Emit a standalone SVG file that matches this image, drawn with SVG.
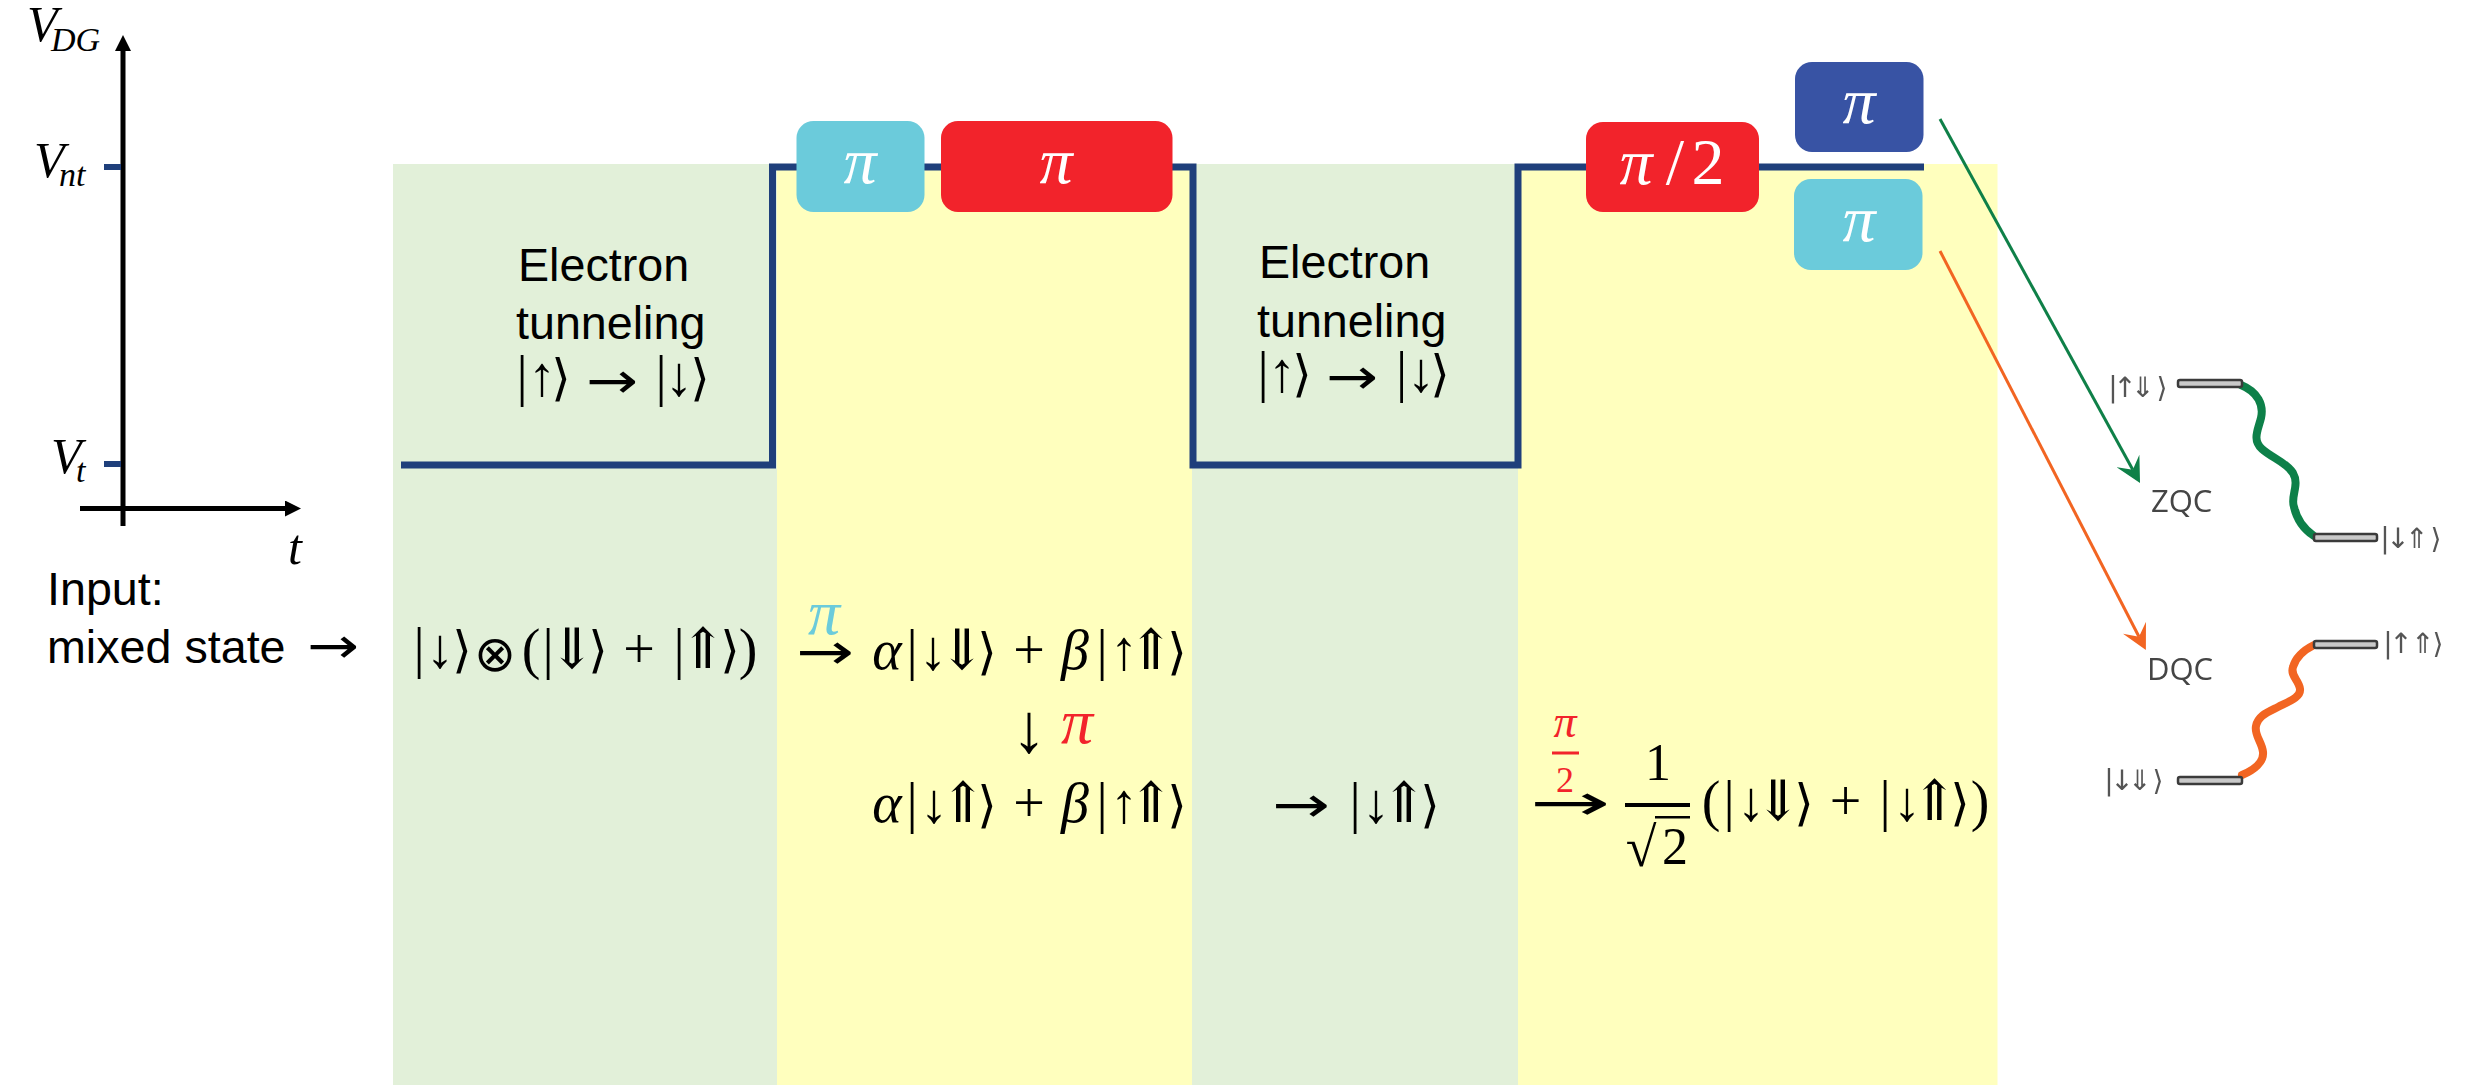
<svg xmlns="http://www.w3.org/2000/svg" width="2475" height="1085" viewBox="0 0 2475 1085">
<style>
text{font-family:"Liberation Serif","DejaVu Serif",serif;fill:#000}
.s{font-family:"Liberation Sans",Arial,sans-serif;font-size:46.67px}
.m{font-size:56px;text-anchor:middle}
.d{font-family:"DejaVu Sans","Liberation Sans",sans-serif;font-size:50px;text-anchor:middle}
.i{font-style:italic}
.b{font-style:italic;font-size:52px;text-anchor:middle}
.ax{font-style:italic;font-size:50px}
.sub{font-style:italic;font-size:34px}
.pi{font-style:italic;font-size:66px;text-anchor:middle;fill:#fff}
.l{font-family:"DejaVu Sans",sans-serif;font-size:28px;text-anchor:middle;fill:#555}
.q{font-family:"Open Sans",sans-serif;font-size:31px;fill:#444}
.lvl{fill:#c9c9c9;stroke:#3a3a3a;stroke-width:2.5}
.wave{fill:none;stroke-width:8;stroke-linecap:round}
.cy{fill:#6BCBDB}.rd{fill:#F2232B}.bl{fill:#3853A4}
</style>
<defs>
<marker id="axh" markerUnits="userSpaceOnUse" viewBox="0 0 16 16" refX="0" refY="8" markerWidth="16" markerHeight="16" orient="auto"><path d="M0,0L16,8L0,16Z" fill="#000"/></marker>
<marker id="gh" markerUnits="userSpaceOnUse" viewBox="0 0 25 26" refX="10" refY="13" markerWidth="25" markerHeight="26" orient="auto"><path d="M25,13L0,0L10,13L0,26Z" fill="#0F8048"/></marker>
<marker id="oh" markerUnits="userSpaceOnUse" viewBox="0 0 25 26" refX="10" refY="13" markerWidth="25" markerHeight="26" orient="auto"><path d="M25,13L0,0L10,13L0,26Z" fill="#F26522"/></marker>
<filter id="soft" x="-5%" y="-5%" width="110%" height="110%"><feGaussianBlur stdDeviation="0.6"/></filter>
</defs>

<g id="panels">
<rect x="393" y="164" width="384" height="921" fill="#E2F0D9"/>
<rect x="777" y="164" width="415" height="921" fill="#FFFFBE"/>
<rect x="1192" y="164" width="326" height="921" fill="#E2F0D9"/>
<rect x="1518" y="164" width="479.500" height="921" fill="#FFFFBE"/>
</g>

<g id="connectors">
<path d="M123,526V51" stroke="#000" stroke-width="5" fill="none" marker-end="url(#axh)"/>
<path d="M80,508.500H285" stroke="#000" stroke-width="5" fill="none" marker-end="url(#axh)"/>
<path d="M104,167H121M104,464H121" stroke="#1F3F7B" stroke-width="6" fill="none"/>
<path id="waveform" d="M401,465H772.500V167H1193V465H1518V167H1924" stroke="#1F3F7B" stroke-width="7" fill="none"/>
<path d="M1940,119L2132.800,469.800" stroke="#0F8048" stroke-width="3" fill="none" marker-end="url(#gh)" transform="translate(0,0)"/>
<path d="M1940,251L2139,636.700" stroke="#F26522" stroke-width="3" fill="none" marker-end="url(#oh)"/>
</g>

<g id="axis-labels">
<text class="ax" x="27" y="41">V</text><text class="sub" x="51" y="51">DG</text>
<text class="ax" x="34" y="177">V</text><text class="sub" x="59" y="186">nt</text>
<text class="ax" x="51" y="473">V</text><text class="sub" x="76" y="482">t</text>
<text class="ax" x="288" y="564">t</text>
</g>

<g id="tunnel-1">
<text class="s" x="518" y="281">Electron</text>
<text class="s" x="516" y="339">tunneling</text>
<text class="m" y="395" x="522 542">|↑</text><text class="d" y="395" x="561">⟩</text>
<text class="d" y="398" x="612" textLength="52" lengthAdjust="spacingAndGlyphs">→</text>
<text class="m" y="395" x="661 679">|↓</text><text class="d" y="395" x="700">⟩</text>
</g>
<g id="tunnel-2">
<text class="s" x="1259" y="278">Electron</text>
<text class="s" x="1257" y="337">tunneling</text>
<text class="m" y="391" x="1263 1282">|↑</text><text class="d" y="391" x="1302">⟩</text>
<text class="d" y="394" x="1352" textLength="52" lengthAdjust="spacingAndGlyphs">→</text>
<text class="m" y="391" x="1401.500 1421">|↓</text><text class="d" y="391" x="1440">⟩</text>
</g>

<g id="pulse-pi-cyan"><rect class="cy" x="796.500" y="121" width="128" height="91" rx="17"/><text class="pi" x="860" y="183">π</text></g>
<g id="pulse-pi-red"><rect class="rd" x="941" y="121" width="231.500" height="91" rx="17"/><text class="pi" x="1056" y="183">π</text></g>
<g id="pulse-pi2-red"><rect class="rd" x="1586" y="122" width="173" height="90" rx="17"/><text class="pi" x="1636" y="184">π</text><text class="pi" style="font-style:normal" x="1675" y="184">/</text><text class="pi" style="font-style:normal" x="1708" y="184">2</text></g>
<g id="pulse-pi-blue"><rect class="bl" x="1795" y="62" width="128.500" height="90" rx="17"/><text class="pi" x="1859" y="123">π</text></g>
<g id="pulse-pi-cyan-2"><rect class="cy" x="1794" y="179" width="128.500" height="91" rx="17"/><text class="pi" x="1859" y="241">π</text></g>

<g id="input">
<text class="s" x="47" y="605">Input:</text>
<text class="s" x="47" y="663">mixed state</text>
<text class="d" y="663" x="333" textLength="52" lengthAdjust="spacingAndGlyphs">→</text>
</g>

<g id="eq-1">
<text class="m" y="667" x="419 440">|↓</text><text class="d" y="667" x="462">⟩</text>
<text class="d" y="671" x="495">⊗</text>
<text class="m" y="668" x="531 548 572">(|⇓</text><text class="d" y="667" x="598">⟩</text>
<text class="m" y="668" x="639 679 703">+|⇑</text><text class="d" y="667" x="730">⟩</text>
<text class="m" y="668" x="748">)</text>
</g>

<g id="eq-2">
<text class="b" x="824" y="634" style="font-size:64px;fill:#6BCBDB">π</text>
<text class="d" y="669" x="825" textLength="58" lengthAdjust="spacingAndGlyphs">→</text>
<text class="m i" y="669" x="887">α</text>
<text class="m" y="669" x="912 933 962">|↓⇓</text><text class="d" y="669" x="987">⟩</text>
<text class="m" y="669" x="1029">+</text>
<text class="m i" y="669" x="1075">β</text>
<text class="m" y="669" x="1102 1124 1151">|↑⇑</text><text class="d" y="669" x="1177">⟩</text>
<text class="m" y="752" x="1029" style="font-size:70px">↓</text>
<text class="b" x="1077" y="743" style="font-size:64px;fill:#F2232B">π</text>
<text class="m i" y="822" x="887">α</text>
<text class="m" y="822" x="912 934 963">|↓⇑</text><text class="d" y="822" x="987">⟩</text>
<text class="m" y="822" x="1029">+</text>
<text class="m i" y="822" x="1075">β</text>
<text class="m" y="822" x="1102 1124 1151">|↑⇑</text><text class="d" y="822" x="1177">⟩</text>
</g>

<g id="eq-3">
<text class="d" y="822" x="1301" textLength="58" lengthAdjust="spacingAndGlyphs">→</text>
<text class="m" y="822" x="1355 1376 1404">|↓⇑</text><text class="d" y="822" x="1430">⟩</text>
</g>

<g id="eq-4">
<text class="b" x="1565" y="737" style="font-size:46px;fill:#F2232B">π</text>
<rect x="1552" y="751.500" width="27" height="3" fill="#F2232B"/>
<text class="m" x="1565" y="792" style="font-size:36px;fill:#F2232B">2</text>
<text class="d" y="820" x="1570" textLength="81" lengthAdjust="spacingAndGlyphs">→</text>
<text class="m" x="1658" y="780" style="font-size:52px">1</text>
<rect x="1625" y="803" width="65" height="4"/>
<text class="m" x="1641" y="866" style="font-size:56px">√</text>
<rect x="1655" y="816" width="35" height="2.500"/>
<text class="m" x="1675" y="864" style="font-size:52px">2</text>
<text class="m" y="820" x="1711 1729 1751 1778">(|↓⇓</text><text class="d" y="820" x="1804">⟩</text>
<text class="m" y="820" x="1845.500 1885 1907 1934.500">+|↓⇑</text><text class="d" y="820" x="1960">⟩</text>
<text class="m" y="820" x="1980">)</text>
</g>

<g id="zqc" filter="url(#soft)">
<path class="wave" stroke="#0F8048" d="M2241,385C2258,392 2264,405 2261,418C2258,430 2252,440 2262,449C2272,458 2286,462 2293,473C2300,485 2290,497 2294,507C2297,520 2305,530 2314,536"/>
<rect class="lvl" x="2178" y="380" width="64" height="7" rx="2"/>
<rect class="lvl" x="2314" y="534" width="63" height="7" rx="2"/>
<text class="l" y="397" x="2113 2125 2143">|↑⇓</text><text class="l" y="397" x="2162">⟩</text>
<text class="l" y="548" x="2385 2398 2417">|↓⇑</text><text class="l" y="548" x="2436">⟩</text>
<text class="q" x="2151" y="512">ZQC</text>
</g>
<g id="dqc" filter="url(#soft)">
<path class="wave" stroke="#F26522" d="M2242,775C2254,770 2264,762 2263,752C2262,742 2254,735 2256,726C2258,716 2266,713 2278,707C2290,701 2301,697 2300,689C2299,680 2290,676 2293,667C2296,656 2304,650 2314,645"/>
<rect class="lvl" x="2178" y="777" width="64" height="7" rx="2"/>
<rect class="lvl" x="2314" y="641" width="63" height="7" rx="2"/>
<text class="l" y="653" x="2388 2401 2423">|↑⇑</text><text class="l" y="653" x="2438">⟩</text>
<text class="l" y="790" x="2109 2122 2140">|↓⇓</text><text class="l" y="790" x="2158">⟩</text>
<text class="q" x="2147" y="680">DQC</text>
</g>
</svg>
